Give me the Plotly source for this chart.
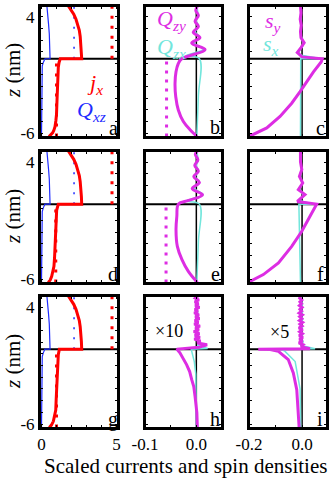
import plotly.graph_objects as go
from plotly.subplots import make_subplots

# z in nm; the FM/NM interface sits at Z_IF
Z_IF = 0.4
Z_TOP = 4.94
Z_BOT = -6.3

# ---- column 1: charge current j_x (red) and spin current Q_xz (blue) ----
Z_JX_FM_A = [-6.30, -6.14, -5.98, -5.77, -5.45, -4.92, -4.39, -3.32, -2.26, -1.20, -0.34, 0.08, 0.40]
JX_FM_A = [0.5, 0.63, 0.74, 0.82, 0.9, 0.96, 1.0, 1.03, 1.05, 1.08, 1.12, 1.17, 1.25]
Z_JX_FM_D = [-6.30, -6.09, -5.77, -5.35, -4.92, -4.18, -3.43, -2.26, -1.20, -0.13, 0.40]
JX_FM_D = [0.45, 0.58, 0.68, 0.77, 0.83, 0.87, 0.9, 0.94, 0.97, 1.01, 1.12]
Z_JX_FM_G = [-6.30, -6.09, -5.77, -5.35, -4.81, -3.86, -2.79, -1.73, -1.09, -0.08, 0.40]
JX_FM_G = [0.52, 0.66, 0.79, 0.88, 0.95, 0.98, 1.01, 1.03, 1.05, 1.12, 1.19]
Z_JX_NM = [0.40, 1.04, 1.68, 2.32, 2.85, 3.38, 3.80, 4.23, 4.55, 4.76, 4.94]
JX_NM = [2.68, 2.66, 2.63, 2.58, 2.52, 2.42, 2.3, 2.15, 2.01, 1.9, 1.79]

Z_Q_FM = [-6.30, -1.20, -0.66, -0.24, 0.08, 0.40]
Q_FM = [0.0, 0.0, 0.01, 0.05, 0.12, 0.23]
Z_Q_NM = [0.40, 1.46, 2.53, 3.38, 4.12, 4.94]
Q_NM = [0.57, 0.56, 0.52, 0.47, 0.42, 0.36]

Z_DOT_FM = [Z_BOT, Z_IF]
Z_DOT_NM = [Z_IF, Z_TOP]
JX_DOT_NM = [4.7, 4.7]
JX_DOT_FM = {"a": [1.0, 1.0], "d": [0.95, 0.95], "g": [1.0, 1.0]}
Q_DOT_NM = [2.17, 2.17]

# ---- column 2: Q_zy (magenta), Q_zx (cyan) ----
Z_B = [-6.30, -5.71, -5.01, -4.01, -2.87, -1.72, -0.73, -0.01, 0.40,
       1.19, 1.75, 2.21, 2.69, 3.17, 3.63, 4.12, 4.55, 4.94]
QZY_B = [0.0015, -0.0123, -0.0253, -0.0351, -0.0401, -0.0415, -0.0396, -0.0351, -0.0284,
         0.017, -0.009, 0.007, -0.006, 0.004, -0.0025, 0.004, -0.001, 0.002]
Z_E = [-6.30, -5.35, -4.35, -3.21, -1.78, -0.64, 0.40,
       0.72, 1.20, 1.73, 2.26, 2.74, 3.22, 3.70, 4.18, 4.66, 4.94]
QZY_E = [0.002, -0.0156, -0.028, -0.037, -0.0396, -0.038, -0.035,
         -0.015, 0.012, -0.008, 0.006, -0.005, 0.004, -0.003, 0.003, -0.002, 0.002]
Z_H = [-6.30, -5.03, -3.64, -2.79, -2.21, -1.52, -0.92, -0.34, 0.08, 0.40,
       0.56, 0.77, 0.93, 1.09, 1.25, 1.41, 1.57, 1.73, 1.89, 2.05, 2.21, 2.37, 2.53, 2.69,
       2.85, 3.01, 3.17, 3.33, 3.49, 3.65, 3.80, 3.96, 4.12, 4.28, 4.44, 4.60, 4.76, 4.94]
QZY_H = [0.002, 0.001, -0.0025, -0.005, -0.009, -0.013, -0.019, -0.026, -0.032, -0.038,
         0.005, 0.021, 0.002, 0.008, -0.004, 0.007, -0.003, 0.006, -0.005, 0.005, -0.002, 0.007, -0.004, 0.004,
         -0.003, 0.006, -0.002, 0.005, -0.004, 0.003, -0.003, 0.006, -0.002, 0.004, -0.003, 0.005, -0.002, 0.003]

Z_QZX_BE = [-6.30, -2.79, 0.40, 0.67, 1.20, 1.78, 2.26, 2.74, 3.22, 3.70, 4.12, 4.94]
QZX_BE = [0.001, 0.004, 0.006, -0.02, 0.013, -0.004, 0.006, -0.002, 0.004, 0.0, 0.003, 0.001]
Z_QZX_H = [-6.30, -1.73, -0.66, -0.03, 0.40, 0.45, 0.72, 1.04, 1.36, 1.68, 2.00, 2.32, 2.63, 2.95, 3.27,
           3.59, 3.91, 4.23, 4.55, 4.94]
QZX_H = [0.0, -0.001, -0.004, -0.007, -0.01, 0.022, 0.003, 0.006, -0.002, 0.005, -0.001, 0.004, -0.002,
         0.004, 0.0, 0.003, -0.001, 0.004, 0.0, 0.002]
QZY_DOT = {"b": [-0.058, -0.058], "e": [-0.059, -0.059]}

# ---- column 3: s_y (magenta), s_x (cyan) ----
Z_C = [-6.30, -6.13, -5.56, -4.57, -3.43, -2.44, -1.58, -0.73, 0.12, 0.40,
       0.56, 0.93, 1.36, 1.78, 2.21, 2.74, 3.27, 3.80, 4.34, 4.94]
SY_C = [-0.2, -0.184, -0.133, -0.083, -0.039, -0.0075, 0.018, 0.043, 0.072, 0.076,
        0.0, -0.018, -0.004, 0.008, -0.004, -0.006, -0.003, -0.007, -0.004, -0.006]
Z_F = [-6.30, -6.20, -5.62, -4.62, -3.21, -1.92, -0.64, 0.40,
       0.63, 1.21, 1.63, 2.21, 2.77, 3.35, 4.02, 4.76, 4.94]
SY_F = [-0.2, -0.196, -0.146, -0.089, -0.039, -0.001, 0.030, 0.055,
        -0.018, 0.011, -0.014, 0.0025, -0.01, -0.001, -0.006, -0.0075, -0.006]
Z_I = [-6.30, -4.77, -3.06, -1.63, -0.49, 0.21, 0.37, 0.40,
       0.43, 0.61, 0.77, 0.93, 1.09, 1.25, 1.41, 1.57, 1.73, 1.89, 2.05, 2.21, 2.37, 2.53, 2.69,
       2.85, 3.01, 3.17, 3.33, 3.49, 3.65, 3.80, 3.96, 4.12, 4.28, 4.44, 4.60, 4.76, 4.94]
SY_I = [-0.011, -0.014, -0.02, -0.033, -0.052, -0.089, -0.12, -0.165,
        0.03, -0.004, 0.004, -0.012, 0.002, -0.01, 0.003, -0.011, 0.001, -0.009, 0.002, -0.012, 0.0, -0.008,
        0.002, -0.01, -0.001, -0.009, 0.001, -0.011, -0.002, -0.008, 0.0, -0.01, -0.002, -0.008, -0.001, -0.009, -0.005]

Z_SX_C = [-6.30, 0.40, 0.40, 0.72, 1.04, 1.46, 1.89, 2.42, 2.95, 3.49, 4.02, 4.55, 4.94]
SX_C = [-0.006, -0.005, 0.074, -0.008, -0.012, 0.002, 0.004, -0.004, -0.003, -0.005, -0.003, -0.005, -0.004]
Z_SX_F = [-6.30, -2.79, 0.40, 0.40, 0.72, 1.14, 1.68, 2.21, 2.74, 3.38, 4.02, 4.94]
SX_F = [-0.006, -0.009, -0.012, 0.045, -0.012, 0.004, -0.008, 0.0, -0.006, -0.002, -0.005, -0.004]
Z_SX_I = [-6.30, -3.00, -0.66, 0.21, 0.40, 0.43, 0.72, 1.04, 1.36, 1.68, 2.00, 2.32, 2.63, 2.95, 3.27,
          3.59, 3.91, 4.23, 4.55, 4.94]
SX_I = [-0.005, -0.0075, -0.026, -0.064, -0.08, 0.049, -0.002, 0.004, -0.006, 0.003, -0.004, 0.002, -0.005,
        0.003, -0.003, 0.002, -0.004, 0.002, -0.003, -0.002]

RED = "#ff0000"
BLUE = "#1f2cff"
MAG = "#dd2de3"
CYAN = "#72e6dc"
SERIF = "Liberation Serif, DejaVu Serif, serif"

W, H = 333, 480
COLS = [(40, 118), (145, 222), (249, 327)]
ROWS = [(6, 137), (151, 283), (296, 428)]
XRANGES = [[-0.1, 5.1], [-0.1, 0.05], [-0.2, 0.094]]
XTICKS = [
    ([0, 1, 2, 3, 4, 5], ["0", "", "", "", "", "5"]),
    ([-0.1, -0.05, 0.0, 0.05], ["-0.1", "", "0.0", ""]),
    ([-0.2, -0.1, 0.0], ["-0.2", "", "0.0"]),
]
YTICKVALS = list(range(-6, 5))
YTICKTEXT = ["-6"] + [""] * 9 + ["4"]

fig = make_subplots(rows=3, cols=3)


def line(x, y, color, width, dash="solid", r=1, c=1, shape="linear"):
    fig.add_trace(
        go.Scatter(x=x, y=y, mode="lines", line=dict(color=color, width=width, dash=dash, shape=shape),
                   showlegend=False, hoverinfo="skip"),
        row=r, col=c,
    )


# column 1
for r, key, zfm, jfm in [(1, "a", Z_JX_FM_A, JX_FM_A), (2, "d", Z_JX_FM_D, JX_FM_D), (3, "g", Z_JX_FM_G, JX_FM_G)]:
    line(Q_DOT_NM, Z_DOT_NM, BLUE, 1.5, "2px,8px", r, 1)
    line(JX_DOT_NM, Z_DOT_NM, RED, 3, "3px,7px", r, 1)
    line(JX_DOT_FM[key], Z_DOT_FM, RED, 3, "3px,7px", r, 1)
    line(Q_FM + Q_NM, Z_Q_FM + Z_Q_NM, BLUE, 1.2, r=r, c=1)
    line(jfm + JX_NM, zfm + Z_JX_NM, RED, 3, r=r, c=1)

# column 2
line(QZY_DOT["b"], Z_DOT_FM, MAG, 3, "3px,6px", 1, 2)
line(QZY_DOT["e"], Z_DOT_FM, MAG, 3, "3px,6px", 2, 2)
line(QZX_BE, Z_QZX_BE, CYAN, 1.5, r=1, c=2, shape="spline")
line(QZX_BE, Z_QZX_BE, CYAN, 1.5, r=2, c=2, shape="spline")
line(QZX_H, Z_QZX_H, CYAN, 1.5, r=3, c=2)
line(QZY_B, Z_B, MAG, 3, r=1, c=2, shape="spline")
line(QZY_E, Z_E, MAG, 3, r=2, c=2, shape="spline")
line(QZY_H, Z_H, MAG, 3, r=3, c=2)

# column 3
line(SX_C, Z_SX_C, CYAN, 1.5, r=1, c=3)
line(SX_F, Z_SX_F, CYAN, 1.5, r=2, c=3)
line(SX_I, Z_SX_I, CYAN, 1.5, r=3, c=3)
line(SY_C, Z_C, MAG, 3, r=1, c=3)
line(SY_F, Z_F, MAG, 3, r=2, c=3)
line(SY_I, Z_I, MAG, 3, r=3, c=3)

for r in range(1, 4):
    y0, y1 = ROWS[r - 1]
    for c in range(1, 4):
        x0, x1 = COLS[c - 1]
        tv, tt = XTICKS[c - 1]
        fig.update_xaxes(
            domain=[x0 / W, x1 / W], range=XRANGES[c - 1], tickvals=tv, ticktext=tt, automargin=False,
            showticklabels=(r == 3), ticks="inside", ticklen=3, tickwidth=1, tickcolor="black",
            showline=True, mirror="ticks", linecolor="black", linewidth=2, ticklabeloverflow="allow",
            showgrid=False, zeroline=False, tickfont=dict(family=SERIF, size=17, color="black"),
            row=r, col=c,
        )
        fig.update_yaxes(
            domain=[1 - y1 / H, 1 - y0 / H], range=[-6.34, Z_TOP], tickvals=YTICKVALS, ticktext=YTICKTEXT,
            automargin=False, ticklabeloverflow="allow",
            showticklabels=(c == 1), ticks="inside", ticklen=3, tickwidth=1, tickcolor="black",
            showline=True, mirror="ticks", linecolor="black", linewidth=2,
            showgrid=False, zeroline=False, tickfont=dict(family=SERIF, size=17, color="black"),
            row=r, col=c,
        )
        fig.add_hline(y=Z_IF, line=dict(color="black", width=2), layer="below", row=r, col=c)
        if c > 1:
            fig.add_vline(x=0, line=dict(color="black", width=1.5), layer="below", row=r, col=c)
        # panel frame
        fig.add_shape(type="rect", xref="x domain", yref="y domain", x0=0, x1=1, y0=0, y1=1,
                      line=dict(color="black", width=2), layer="above", row=r, col=c)


def text(s, px, py, size=16, color="black", angle=0):
    fig.add_annotation(text=s, x=px / W, y=1 - py / H, xref="paper", yref="paper", showarrow=False,
                       textangle=angle, xanchor="center", yanchor="middle",
                       font=dict(family=SERIF, size=size, color=color))


# panel letters
PANEL_POS = [(113, 128), (215, 127), (320, 128), (113, 274), (215, 274), (320, 274), (113, 419), (215, 419), (320, 419)]
for (px, py), letter in zip(PANEL_POS, "abcdefghi"):
    text(letter, px, py, size=20)

text("<i>j</i><sub><i>x</i></sub>", 95, 84, size=22, color=RED)
text("<i>Q</i><sub><i>xz</i></sub>", 91, 111, size=22, color=BLUE)
text("<i>Q</i><sub><i>zy</i></sub>", 171, 20, size=22, color=MAG)
text("<i>Q</i><sub><i>zx</i></sub>", 171, 48, size=22, color=CYAN)
text("<i>s</i><sub><i>y</i></sub>", 273, 22, size=22, color=MAG)
text("<i>s</i><sub><i>x</i></sub>", 271, 45, size=22, color=CYAN)
text("×10", 169, 331, size=18)
text("×5", 279, 332, size=18)

for yc in [71, 217, 362]:
    text("<i>z</i> (nm)", 13, yc, size=21, angle=-90)
text("Scaled currents and spin densities", 186, 466, size=21)

fig.update_layout(
    width=W, height=H, margin=dict(l=0, r=0, t=0, b=0),
    paper_bgcolor="white", plot_bgcolor="white",
)
fig.write_html("out.html", config={"displayModeBar": False},
               post_script="document.body.style.margin = '0px';")
